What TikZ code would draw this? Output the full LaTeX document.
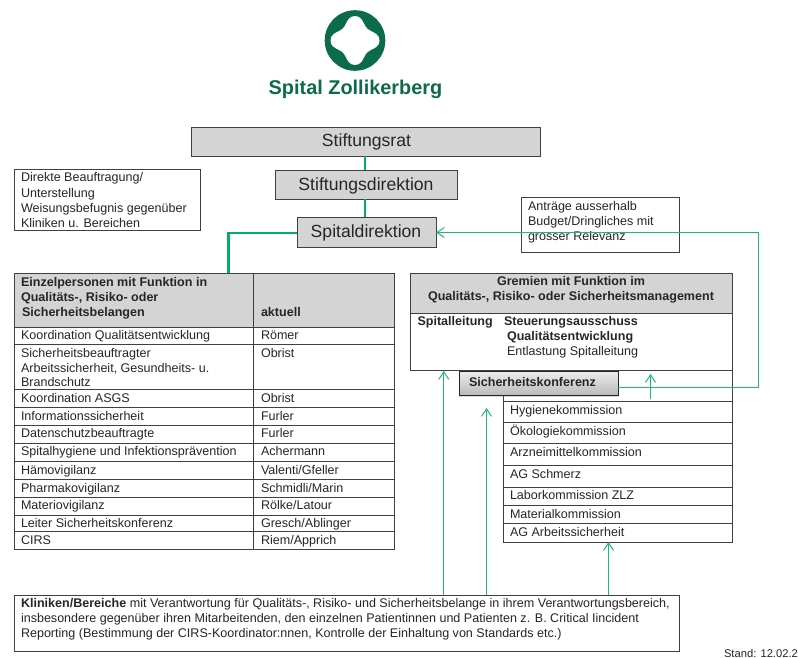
\documentclass[tikz,border=0pt]{standalone}
\usepackage{fontspec}
\setmainfont{Liberation Sans}
\usetikzlibrary{arrows.meta,shadows}
\definecolor{linegray}{HTML}{404040}
\definecolor{fillgray}{HTML}{D4D4D4}
\definecolor{txtgray}{HTML}{262626}
\definecolor{boldgreen}{HTML}{00B060}
\definecolor{thingreen}{HTML}{20B873}
\definecolor{logogreen}{HTML}{0B6B4B}
\tikzset{
  cellbox/.style={draw=linegray,line width=0.9pt,anchor=north west,inner sep=0,outer sep=0,fill=white},
  graybox/.style={cellbox,fill=fillgray},
  lbl/.style={anchor=base west,inner sep=0,outer sep=0,text=txtgray,font=\fontsize{12.55}{14}\selectfont},
  blbl/.style={lbl,font=\fontsize{12.55}{14}\selectfont\bfseries},
  clbl/.style={blbl,anchor=base},
  title/.style={anchor=base,inner sep=0,text=txtgray,font=\fontsize{17.6}{19}\selectfont},
  strong/.style={boldgreen,line width=2.4pt},
  weak/.style={thingreen,line width=1.05pt},
  weakarrow/.style={weak,-{Straight Barb[length=7.5pt,width=10pt,line width=1pt]}},
}
\newcommand{\bx}[6]{\node[#1,minimum width={(#5-#3)*1pt},minimum height={(#6-#4)*1pt}] (#2) at (#3,#4) {};}
\begin{document}
\begin{tikzpicture}[x=1pt,y=-1pt]
\useasboundingbox (0,0) rectangle (798,658);
% logo
\fill[logogreen] (355,40.5) circle (30.3);
\begin{scope}[shift={(355,40.5)}]
\fill[white] (0,-24.5) .. controls (5.5,-24.5) and (7.5,-20) .. (9.5,-16) .. controls (11.5,-12) and (12.5,-11.5) .. (16,-9.5) .. controls (20,-7.5) and (24.5,-5.5) .. (24.5,0)
 .. controls (24.5,5.5) and (20,7.5) .. (16,9.5) .. controls (12.5,11.5) and (11.5,12) .. (9.5,16) .. controls (7.5,20) and (5.5,24.5) .. (0,24.5)
 .. controls (-5.5,24.5) and (-7.5,20) .. (-9.5,16) .. controls (-11.5,12) and (-12.5,11.5) .. (-16,9.5) .. controls (-20,7.5) and (-24.5,5.5) .. (-24.5,0)
 .. controls (-24.5,-5.5) and (-20,-7.5) .. (-16,-9.5) .. controls (-12.5,-11.5) and (-11.5,-12) .. (-9.5,-16) .. controls (-7.5,-20) and (-5.5,-24.5) .. (0,-24.5) -- cycle;
\end{scope}
\node[inner sep=0,anchor=base,text=logogreen,font=\fontsize{19.9}{22}\selectfont\bfseries] (logotext) at (355.5,95) {Spital Zollikerberg};
% governance boxes
\bx{graybox}{rat}{191}{127}{540}{156}
\bx{graybox}{direk}{275}{170}{457}{199}
\bx{graybox}{spit}{297}{217}{436}{247}
\node[title] (rattext) at (366.5,147) {Stiftungsrat};
\node[title] (direktext) at (366,190.7) {Stiftungsdirektion};
\node[title] (spittext) at (366,237) {Spitaldirektion};
% legend
\bx{cellbox}{legend}{14}{169}{200}{230}
\node[lbl] (leg1) at (21,181.5) {Direkte Beauftragung/};
\node[lbl] (leg2) at (21,197) {Unterstellung};
\node[lbl] (leg3) at (21,212) {Weisungsbefugnis gegenüber};
\node[lbl] (leg4) at (21,227) {Kliniken u. Bereichen};
% request box
\bx{cellbox}{antr}{521}{197}{679}{252}
\node[lbl] (antr1) at (528,210) {Anträge ausserhalb};
\node[lbl] (antr2) at (528,225) {Budget/Dringliches mit};
\node[lbl] (antr3) at (528,240) {grosser Relevanz};
% left table
\bx{graybox}{hleft}{14}{273}{253}{327}
\bx{graybox}{hright}{253}{273}{394.5}{327}
\node[blbl] (h1) at (21,286) {Einzelpersonen mit Funktion in};
\node[blbl] (h2) at (21,301) {Qualitäts-, Risiko- oder};
\node[blbl] (h3) at (22,316) {Sicherheitsbelangen};
\node[blbl] (h4) at (261,316) {aktuell};
\bx{cellbox}{la}{14}{327}{253}{344}\bx{cellbox}{ra}{253}{327}{394.5}{344}
\bx{cellbox}{lb}{14}{344}{253}{389}\bx{cellbox}{rb}{253}{344}{394.5}{389}
\bx{cellbox}{lc}{14}{389}{253}{407}\bx{cellbox}{rc}{253}{389}{394.5}{407}
\bx{cellbox}{ld}{14}{407}{253}{425}\bx{cellbox}{rd}{253}{407}{394.5}{425}
\bx{cellbox}{le}{14}{425}{253}{443}\bx{cellbox}{re}{253}{425}{394.5}{443}
\bx{cellbox}{lf}{14}{443}{253}{461}\bx{cellbox}{rf}{253}{443}{394.5}{461}
\bx{cellbox}{lg}{14}{461}{253}{479}\bx{cellbox}{rg}{253}{461}{394.5}{479}
\bx{cellbox}{lh}{14}{479}{253}{497}\bx{cellbox}{rh}{253}{479}{394.5}{497}
\bx{cellbox}{li}{14}{497}{253}{515}\bx{cellbox}{ri}{253}{497}{394.5}{515}
\bx{cellbox}{lj}{14}{515}{253}{531}\bx{cellbox}{rj}{253}{515}{394.5}{531}
\bx{cellbox}{lk}{14}{531}{253}{549}\bx{cellbox}{rk}{253}{531}{394.5}{549}
\node[lbl] (ta) at (21,339) {Koordination Qualitätsentwicklung};
\node[lbl] (va) at (261,339) {Römer};
\node[lbl] (tb1) at (21,357) {Sicherheitsbeauftragter};
\node[lbl] (tb2) at (21,372) {Arbeitssicherheit, Gesundheits- u.};
\node[lbl] (tb3) at (21,386.5) {Brandschutz};
\node[lbl] (vb) at (261,357) {Obrist};
\node[lbl] (tc) at (21,402) {Koordination ASGS};
\node[lbl] (vc) at (261,402) {Obrist};
\node[lbl] (td) at (21,420) {Informationssicherheit};
\node[lbl] (vd) at (261,420) {Furler};
\node[lbl] (te) at (21,437.5) {Datenschutzbeauftragte};
\node[lbl] (ve) at (261,437.5) {Furler};
\node[lbl] (tf) at (21,455.5) {Spitalhygiene und Infektionsprävention};
\node[lbl] (vf) at (261,455.5) {Achermann};
\node[lbl] (tg) at (21,474) {Hämovigilanz};
\node[lbl] (vg) at (261,474) {Valenti/Gfeller};
\node[lbl] (th) at (21,492) {Pharmakovigilanz};
\node[lbl] (vh) at (261,492) {Schmidli/Marin};
\node[lbl] (ti) at (21,509.5) {Materiovigilanz};
\node[lbl] (vi) at (261,509.5) {Rölke/Latour};
\node[lbl] (tj) at (21,527) {Leiter Sicherheitskonferenz};
\node[lbl] (vj) at (261,527) {Gresch/Ablinger};
\node[lbl] (tk) at (21,544) {CIRS};
\node[lbl] (vk) at (261,544) {Riem/Apprich};
% committees
\bx{graybox}{gh}{410}{273}{732}{313}
\bx{cellbox}{gb}{410}{313}{732}{370}
\node[clbl] (g1) at (571,285) {Gremien mit Funktion im};
\node[clbl] (g2) at (571,300) {Qualitäts-, Risiko- oder Sicherheitsmanagement};
\node[blbl] (g3) at (417.5,325) {Spitalleitung};
\node[blbl] (g4) at (504,325) {Steuerungsausschuss};
\node[blbl] (g5) at (507,340) {Qualitätsentwicklung};
\node[lbl] (g6) at (507,355) {Entlastung Spitalleitung};
\bx{cellbox}{ka}{503}{370}{732}{401}
\bx{cellbox}{kb}{503}{401}{732}{422}
\bx{cellbox}{kc}{503}{422}{732}{443}
\bx{cellbox}{kd}{503}{443}{732}{465}
\bx{cellbox}{ke}{503}{465}{732}{487}
\bx{cellbox}{kf}{503}{487}{732}{505}
\bx{cellbox}{kg}{503}{505}{732}{523}
\bx{cellbox}{kh}{503}{523}{732}{542}
\node[lbl] (k1) at (510,414) {Hygienekommission};
\node[lbl] (k2) at (510,435) {Ökologiekommission};
\node[lbl] (k3) at (510,456) {Arzneimittelkommission};
\node[lbl] (k4) at (510,478) {AG Schmerz};
\node[lbl] (k5) at (510,499.5) {Laborkommission ZLZ};
\node[lbl] (k6) at (510,518) {Materialkommission};
\node[lbl] (k7) at (510,536) {AG Arbeitssicherheit};
% safety conference
\node[anchor=north west,draw=black!85,line width=0.9pt,inner sep=0,outer sep=0,top color=black!7,bottom color=black!27,minimum width=159pt,minimum height=24pt,drop shadow={shadow xshift=0pt,shadow yshift=-2pt,opacity=.3}] (sk) at (459,371) {};
\node[blbl] (sktext) at (469,386) {Sicherheitskonferenz};
% bottom box
\bx{cellbox}{kl}{14}{595}{679}{651.5}
\node[lbl] (b1) at (21,607) {\textbf{Kliniken/Bereiche} mit Verantwortung für Qualitäts-, Risiko- und Sicherheitsbelange in ihrem Verantwortungsbereich,};
\node[lbl] (b2) at (21,622) {insbesondere gegenüber ihren Mitarbeitenden, den einzelnen Patientinnen und Patienten z. B. Critical Iincident};
\node[lbl] (b3) at (21,637) {Reporting (Bestimmung der CIRS-Koordinator:nnen, Kontrolle der Einhaltung von Standards etc.)};
\node[lbl,font=\fontsize{11.2}{12}\selectfont] (stand) at (724,657) {Stand: 12.02.2};
% connector routing points
\coordinate (axis) at (365,0);
\coordinate (elbowA) at (228.5,233);
\coordinate (elbowB) at (758.5,387.5);
\coordinate (elbowC) at (758.5,232.5);
\coordinate (a1x) at (443.8,0);
\coordinate (a2x) at (486.5,0);
\coordinate (a2e) at (486.5,408);
\coordinate (a3s) at (650.5,399);
\coordinate (a3e) at (650.5,374);
\coordinate (a4x) at (608.5,0);
% connectors
\draw[strong] (axis |- rat.south) -- (axis |- direk.north);
\draw[strong] (axis |- direk.south) -- (axis |- spit.north);
\draw[strong] (spit.west |- elbowA) -- (elbowA) -- (elbowA |- hleft.north);
\draw[weakarrow] (sk.east |- elbowB) -- (elbowB) -- (elbowC) -- (spit.east |- elbowC);
\draw[weakarrow] (a1x |- kl.north) -- (a1x |- sk.north);
\draw[weakarrow] (a2x |- kl.north) -- (a2e);
\draw[weakarrow] (a3s) -- (a3e);
\draw[weakarrow] (a4x |- kl.north) -- (a4x |- kh.south);
\end{tikzpicture}
\end{document}
